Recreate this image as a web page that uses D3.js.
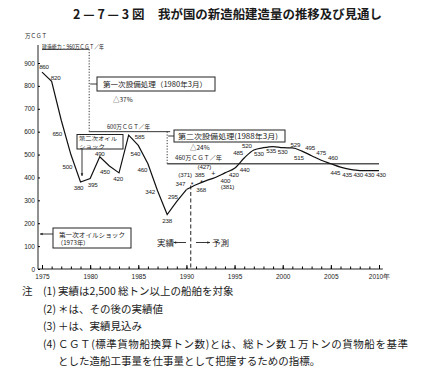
<!doctype html>
<html>
<head>
<meta charset="utf-8">
<script src="https://d3js.org/d3.v7.min.js"></script>
<style>
  body, html { margin: 0; padding: 0; background: #fff; overflow: hidden; }
  text { font-family: "Noto Sans CJK JP", "DejaVu Sans", sans-serif; fill: #1a1a1a; }
  .num { font-family: "Liberation Sans", "DejaVu Sans", sans-serif; }
</style>
</head>
<body>
<script>
// actual results (1975-1990)
const actualYears = [1975, 1976, 1977, 1978, 1979, 1980, 1981, 1982, 1983, 1984, 1985, 1986, 1987, 1988, 1989, 1990];
const actualValues = [860, 820, 650, 500, 380, 395, 490, 450, 420, 585, 540, 460, 342, 238, 295, 347];

// forecast (1990-2010)
const forecastYears = [1990, 1991, 1992, 1993, 1994, 1995, 1996, 1997, 1998, 1999, 2000,
                       2001, 2002, 2003, 2004, 2005, 2006, 2007, 2008, 2009, 2010];
const forecastValues = [347, 368, 385, 400, 420, 440, 485, 520, 530, 535, 530,
                        529, 515, 495, 475, 460, 445, 435, 430, 430, 430];

// later actuals (*) and estimate (+)
const laterYears = [1991, 1992];
const laterValues = [371, 381];
const estimateYears = [1993];
const estimateValues = [427];

// building capacity steps (万CGT/年)
const capacityBreaks = [1975, 1979.9, 1988, 2010];
const capacityLevels = [960, 600, 460];

const xTickYears = [1975, 1980, 1985, 1990, 1995, 2000, 2005, 2010];
const xTickLabels = ["1975", "1980", "1985", "1990", "1995", "2000", "2005", "2010年"];
const yTicks = [0, 100, 200, 300, 400, 500, 600, 700, 800, 900];

// label offsets (px, from point to label centre)
const actualLabelPos = [[2, -5], [4, -4], [-4, 14], [-3.5, 12], [-2, 6], [2.5, 6.5], [0, -3], [-4.5, 6],
                        [-1, 6], [11, 2], [-3, 8], [-5.5, 6], [-7.5, 1], [0, 6], [-4, -5], [-6, -6]];
const forecastLabelPos = [null, [5, 5], [-6, -6], [10, 3.5], [9, 2], [10, 2], [-6, -5], [-7, -4],
                          [-4.5, 6.5], [-2, 4.5], [0, 4.5], [3, -3], [-3, 7], [-1.5, -7.5], [0, -7],
                          [2, -5.5], [-5, 6], [-3, 5], [-1.5, 4.5], [0, 4.5], [2, 4.5]];
const laterLabelPos = [[-11, -9], [21.7, 5]];
const estimateLabelPos = [[-11, -4.5]];

const width = 433, height = 386;
const svg = d3.create("svg").attr("width", width).attr("height", height);

const x = d3.scaleLinear().domain([1975, 2010]).range([42, 379]);
const y = d3.scaleLinear().domain([0, 900]).range([269, 63]);

// title
svg.append("text").attr("x", 73).attr("y", 19)
    .attr("font-size", 12.5).attr("font-weight", "bold")
    .text("2 — 7 — 3 図");
svg.append("text").attr("x", 158).attr("y", 19)
    .attr("font-size", 12.5).attr("font-weight", "bold")
    .attr("textLength", 224).attr("lengthAdjust", "spacingAndGlyphs")
    .text("我が国の新造船建造量の推移及び見通し");

svg.append("text").attr("x", 25).attr("y", 38).attr("font-size", 5.5).text("万ＣＧＴ");

// axes
const g = svg.append("g");
g.append("line").attr("x1", 38).attr("x2", 38).attr("y1", 45).attr("y2", y(0))
    .attr("stroke", "#222").attr("stroke-width", 1);
g.append("line").attr("x1", 38).attr("x2", x(2010.4)).attr("y1", y(0)).attr("y2", y(0))
    .attr("stroke", "#222").attr("stroke-width", 1);

const yAxis = d3.axisLeft(y).tickValues(yTicks).tickSize(-2).tickPadding(3);
g.append("g").attr("transform", "translate(38,0)").call(yAxis)
    .call(s => s.select(".domain").remove())
    .call(s => s.selectAll("text").attr("class", "num").attr("font-size", 6.5).attr("fill", "#222"));

const xAxis = d3.axisBottom(x).tickValues(d3.range(1976, 2011)).tickSize(-2.5).tickFormat("");
g.append("g").attr("transform", `translate(0,${y(0)})`).call(xAxis)
    .call(s => s.select(".domain").remove());
g.append("g").attr("transform", `translate(0,${y(0)})`)
    .call(d3.axisBottom(x).tickValues(xTickYears).tickSize(-4).tickPadding(5)
        .tickFormat((d, i) => xTickLabels[i]))
    .call(s => s.select(".domain").remove())
    .call(s => s.selectAll("text").attr("class", "num").attr("font-size", 6.5).attr("fill", "#222"));

// capacity steps
const cap = svg.append("g").attr("stroke", "#333").attr("fill", "none");
capacityLevels.forEach((v, i) => {
    cap.append("line")
        .attr("x1", x(capacityBreaks[i])).attr("x2", x(capacityBreaks[i + 1]) + (i === 1 ? 3 : 0))
        .attr("y1", y(v)).attr("y2", y(v))
        .attr("stroke", i === 2 ? "#555" : "#333")
        .attr("stroke-width", i === 2 ? 1.6 : 1);
    if (i > 0) {
        cap.append("line")
            .attr("x1", x(capacityBreaks[i])).attr("x2", x(capacityBreaks[i]))
            .attr("y1", y(capacityLevels[i - 1])).attr("y2", y(v))
            .attr("stroke-width", 1).attr("stroke-dasharray", "1.2,1.6");
    }
});

// actual / forecast divider
svg.append("line").attr("x1", x(1990.45)).attr("x2", x(1990.45))
    .attr("y1", y(365)).attr("y2", y(0))
    .attr("stroke", "#222").attr("stroke-width", 1).attr("stroke-dasharray", "4,2.5");

// lines
const actual = actualYears.map((d, i) => [d, actualValues[i]]);
const forecast = forecastYears.map((d, i) => [d, forecastValues[i]]);
svg.append("path").datum(actual)
    .attr("d", d3.line().x(d => x(d[0])).y(d => y(d[1])))
    .attr("fill", "none").attr("stroke", "#111").attr("stroke-width", 1.2);
svg.append("path").datum(forecast)
    .attr("d", d3.line().x(d => x(d[0])).y(d => y(d[1])).curve(d3.curveMonotoneX))
    .attr("fill", "none").attr("stroke", "#111").attr("stroke-width", 1.2);

// value labels
function labels(years, values, pos, fmt) {
    svg.append("g").selectAll("text")
        .data(years.map((d, i) => ({ year: d, value: values[i], p: pos[i] })).filter(d => d.p))
        .join("text")
        .attr("class", "num")
        .attr("font-size", 6.2)
        .attr("letter-spacing", -0.2)
        .attr("text-anchor", "middle")
        .attr("x", d => x(d.year) + d.p[0])
        .attr("y", d => y(d.value) + d.p[1] + 2.2)
        .text(d => fmt(d.value));
}
labels(actualYears, actualValues, actualLabelPos, v => v);
labels(forecastYears, forecastValues, forecastLabelPos, v => v);
labels(laterYears, laterValues, laterLabelPos, v => `(${v})`);
labels(estimateYears, estimateValues, estimateLabelPos, v => `(${v})`);

svg.append("g").selectAll("text").data(laterYears).join("text")
    .attr("class", "num").attr("font-size", 7).attr("text-anchor", "middle")
    .attr("x", d => x(d) - 4).attr("y", (d, i) => y(laterValues[i]) + 3)
    .text("*");
svg.append("g").selectAll("text").data(estimateYears).join("text")
    .attr("class", "num").attr("font-size", 7).attr("text-anchor", "middle")
    .attr("x", d => x(d) - 2).attr("y", (d, i) => y(estimateValues[i]) + 5)
    .text("+");

// annotations
svg.append("text").attr("x", 42).attr("y", 48.5).attr("font-size", 5.8)
    .attr("textLength", 62).attr("lengthAdjust", "spacingAndGlyphs")
    .text("建造能力：960万ＣＧＴ／年");

function box(bx, by, bw, bh) {
    svg.append("rect").attr("x", bx).attr("y", by).attr("width", bw).attr("height", bh)
        .attr("fill", "#fff").attr("stroke", "#222").attr("stroke-width", 1);
}
function arrow(x1, y1, x2, y2) {
    const a = Math.atan2(y2 - y1, x2 - x1), s = 3;
    svg.append("line").attr("x1", x1).attr("y1", y1).attr("x2", x2).attr("y2", y2)
        .attr("stroke", "#222").attr("stroke-width", 0.9);
    svg.append("path")
        .attr("d", `M${x2},${y2}L${x2 - s * Math.cos(a - 0.45)},${y2 - s * Math.sin(a - 0.45)}` +
            `L${x2 - s * Math.cos(a + 0.45)},${y2 - s * Math.sin(a + 0.45)}Z`)
        .attr("fill", "#222");
}

// first capacity reduction
svg.append("line").attr("x1", x(1979.9) + 1).attr("x2", 97).attr("y1", 84).attr("y2", 84)
    .attr("stroke", "#222").attr("stroke-width", 0.9);
box(97, 77, 118, 14);
svg.append("text").attr("x", 103).attr("y", 87).attr("font-size", 7.2)
    .attr("textLength", 104).attr("lengthAdjust", "spacingAndGlyphs")
    .text("第一次設備処理（1980年3月）");
svg.append("text").attr("x", 113).attr("y", 102).attr("font-size", 6.5).text("△37%");
svg.append("text").attr("x", 107).attr("y", 129).attr("font-size", 5.8)
    .attr("textLength", 43).attr("lengthAdjust", "spacingAndGlyphs")
    .text("600万ＣＧＴ／年");

// second oil shock
box(77, 134.5, 46, 14.5);
svg.append("text").attr("x", 79).attr("y", 140.3).attr("font-size", 5)
    .attr("textLength", 38).attr("lengthAdjust", "spacingAndGlyphs").text("第二次オイル");
svg.append("text").attr("x", 79).attr("y", 147.6).attr("font-size", 5)
    .attr("textLength", 26).attr("lengthAdjust", "spacingAndGlyphs").text("ショック");
arrow(82, 149, 82, 176);

// second capacity reduction
svg.append("line").attr("x1", x(1988) + 1).attr("x2", 174).attr("y1", 136).attr("y2", 136)
    .attr("stroke", "#222").attr("stroke-width", 0.9);
box(174, 130, 111, 12);
svg.append("text").attr("x", 178).attr("y", 139.3).attr("font-size", 7.2)
    .attr("textLength", 100).attr("lengthAdjust", "spacingAndGlyphs")
    .text("第二次設備処理(1988年3月)");
svg.append("text").attr("x", 190).attr("y", 150).attr("font-size", 6.5).text("△24%");
svg.append("text").attr("x", 175).attr("y", 160).attr("font-size", 5.8)
    .attr("textLength", 47).attr("lengthAdjust", "spacingAndGlyphs")
    .text("460万ＣＧＴ／年");

// first oil shock
box(53, 228, 78, 20);
svg.append("text").attr("x", 59).attr("y", 236.5).attr("font-size", 6.2)
    .attr("textLength", 66).attr("lengthAdjust", "spacingAndGlyphs")
    .text("第一次オイルショック");
svg.append("text").attr("x", 57).attr("y", 245).attr("font-size", 6.2).text("（1973年）");
arrow(53, 234, 40, 234);

// actual / forecast
svg.append("text").attr("x", 157).attr("y", 245.5).attr("font-size", 8.5).text("実績");
arrow(186, 242.5, 173.5, 242.5);
arrow(196, 242.5, 210, 242.5);
svg.append("text").attr("x", 212).attr("y", 245.5).attr("font-size", 8.5).text("予測");

// notes
const notes = svg.append("g").attr("font-size", 10.5);
notes.append("text").attr("x", 22).attr("y", 295).text("注");
const noteRows = [
    ["(1)", "実績は2,500 総トン以上の船舶を対象", 295],
    ["(2)", "＊は、その後の実績値", 313],
    ["(3)", "＋は、実績見込み", 330],
    ["(4)", "ＣＧＴ(標準貨物船換算トン数)とは、総トン数１万トンの貨物船を基準", 348]
];
noteRows.forEach(r => {
    notes.append("text").attr("x", 43).attr("y", r[2]).text(r[0]);
    const t = notes.append("text").attr("x", 58).attr("y", r[2]).text(r[1]);
    if (r[0] === "(4)") t.attr("textLength", 350).attr("lengthAdjust", "spacing");
});
notes.append("text").attr("x", 58).attr("y", 365).text("とした造船工事量を仕事量として把握するための指標。");

document.body.appendChild(svg.node());
</script>
</body>
</html>
